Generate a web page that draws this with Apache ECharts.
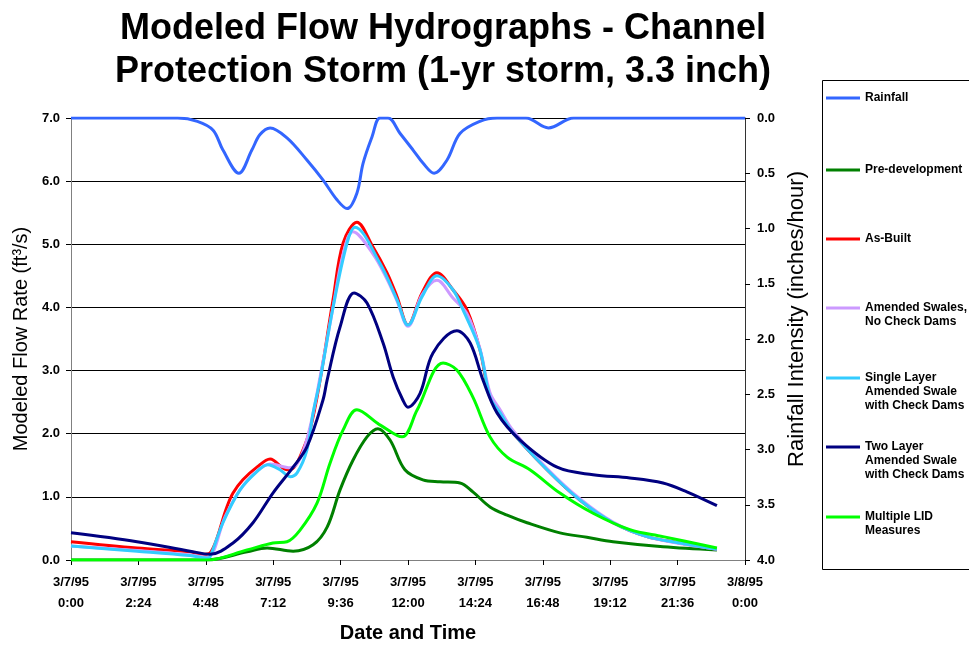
<!DOCTYPE html>
<html>
<head>
<meta charset="utf-8">
<title>Modeled Flow Hydrographs</title>
<script src="https://cdn.jsdelivr.net/npm/echarts@6/dist/echarts.min.js"></script>
<style>
  html, body { margin: 0; padding: 0; background: #fff; }
  #chart { width: 969px; height: 648px; }
</style>
</head>
<body>
<div id="chart"></div>
<script>
// x axis is hours after 3/7/95 0:00
var xTickLabels = ['3/7/95\n0:00', '3/7/95\n2:24', '3/7/95\n4:48', '3/7/95\n7:12', '3/7/95\n9:36',
    '3/7/95\n12:00', '3/7/95\n14:24', '3/7/95\n16:48', '3/7/95\n19:12', '3/7/95\n21:36', '3/8/95\n0:00'];

var legendNames = ['Rainfall', 'Pre-development', 'As-Built', 'Amended Swales,\nNo Check Dams',
    'Single Layer\nAmended Swale\nwith Check Dams', 'Two Layer\nAmended Swale\nwith Check Dams',
    'Multiple LID\nMeasures'];

// rainfall intensity (inches/hour)
var rainHours = [0, 3.8, 4.5, 5.06, 5.41, 5.98, 6.44, 6.73, 7.09, 7.69, 8.40, 8.97, 9.47, 9.83, 10.18,
    10.40, 10.72, 11.0, 11.29, 11.72, 12.18, 12.54, 12.93, 13.39, 13.85, 14.56, 15.17, 16.2, 17.0, 17.9, 24];
var rainValues = [0, 0, 0.03, 0.11, 0.29, 0.50, 0.29, 0.15, 0.09, 0.18, 0.38, 0.56, 0.74, 0.82, 0.68,
    0.41, 0.17, 0, 0, 0.14, 0.29, 0.41, 0.50, 0.38, 0.14, 0.03, 0, 0, 0.09, 0, 0];

// flows (ft3/s)
var preHours = [0, 4.84, 6.27, 6.98, 7.91, 8.62, 9.12, 9.58, 10.04, 10.54, 10.93, 11.36, 11.89, 12.53,
    13.14, 13.85, 14.31, 14.92, 15.53, 16.24, 17.41, 18.37, 19.30, 21.08, 23.0];
var preFlow = [0, 0, 0.13, 0.19, 0.14, 0.24, 0.52, 1.11, 1.58, 1.95, 2.08, 1.9, 1.43, 1.27,
    1.24, 1.22, 1.08, 0.84, 0.71, 0.59, 0.43, 0.36, 0.29, 0.21, 0.16];

var builtHours = [0, 2.35, 4.24, 4.70, 4.95, 5.55, 5.77, 6.12, 6.62, 7.09, 7.69, 7.9, 8.15, 8.51, 8.87,
    9.33, 9.69, 10.18, 10.75, 11.25, 11.61, 12.0, 12.5, 13.03, 13.6, 14.1, 14.56, 14.92, 15.28, 15.74,
    16.95, 18.12, 19.3, 20.51, 21.68, 23.0];
var builtFlow = [0.29, 0.19, 0.13, 0.09, 0.11, 0.84, 1.06, 1.27, 1.47, 1.60, 1.43, 1.45, 1.63, 2.06, 2.85,
    4.12, 5.02, 5.35, 4.96, 4.55, 4.17, 3.72, 4.23, 4.55, 4.28, 3.96, 3.33, 2.58, 2.33, 2.01,
    1.43, 0.95, 0.59, 0.37, 0.27, 0.17];

var amendHours = [0, 2.35, 4.24, 4.84, 5.5, 6.0, 6.6, 7.09, 7.8, 8.15, 8.51, 8.87, 9.33, 9.69, 10.04,
    10.75, 11.25, 11.61, 12.0, 12.5, 13.03, 13.6, 14.1, 14.56, 14.92, 15.28, 15.74, 16.95, 18.12, 19.3,
    20.51, 21.68, 23.0];
var amendFlow = [0.22, 0.15, 0.08, 0.04, 0.7, 1.1, 1.4, 1.52, 1.46, 1.6, 2.1, 2.9, 4.0, 4.85, 5.2,
    4.85, 4.45, 4.1, 3.7, 4.2, 4.43, 4.15, 3.9, 3.35, 2.65, 2.38, 2.05, 1.45, 0.97, 0.6,
    0.37, 0.26, 0.17];

var singleHours = [0, 2.35, 4.24, 4.84, 4.95, 5.41, 6.02, 6.62, 7.01, 7.44, 7.8, 8.05, 8.4, 8.62, 8.87,
    9.33, 9.83, 10.11, 11.0, 11.61, 12.0, 12.5, 13.03, 13.6, 13.96, 14.56, 14.92, 15.28, 15.74, 16.95,
    18.12, 19.3, 20.51, 21.68, 23.0];
var singleFlow = [0.22, 0.14, 0.07, 0.03, 0.05, 0.59, 1.11, 1.40, 1.51, 1.43, 1.32, 1.38, 1.74, 2.33, 2.85,
    4.0, 5.02, 5.27, 4.70, 4.12, 3.72, 4.17, 4.50, 4.28, 3.96, 3.33, 2.58, 2.33, 2.01, 1.43,
    0.95, 0.59, 0.37, 0.27, 0.17];

var twoHours = [0, 2.35, 4.24, 4.95, 5.77, 6.48, 7.19, 7.91, 8.40, 8.97, 9.12, 9.58, 10.08, 10.54, 11.11,
    11.47, 11.82, 12.0, 12.43, 12.89, 13.74, 14.21, 14.67, 15.17, 15.99, 17.31, 18.59, 19.90, 21.08,
    21.93, 23.0];
var twoFlow = [0.43, 0.29, 0.14, 0.09, 0.27, 0.59, 1.06, 1.47, 1.79, 2.53, 2.85, 3.69, 4.23, 4.07, 3.44,
    2.90, 2.53, 2.42, 2.64, 3.28, 3.63, 3.44, 2.85, 2.33, 1.90, 1.47, 1.35, 1.30, 1.22,
    1.08, 0.86];

var lidHours = [0, 4.84, 6.27, 7.19, 7.69, 8.15, 8.76, 9.22, 9.69, 10.18, 10.90, 11.0, 11.79, 12.32,
    13.25, 13.74, 14.31, 14.92, 15.53, 16.34, 17.41, 18.59, 19.90, 21.08, 23.0];
var lidFlow = [0, 0, 0.16, 0.27, 0.29, 0.47, 0.9, 1.53, 2.06, 2.38, 2.17, 2.14, 1.95, 2.37,
    3.12, 3.01, 2.58, 1.95, 1.63, 1.43, 1.06, 0.74, 0.48, 0.37, 0.19];

var lineColors = ['#3366ff', '#008000', '#ff0000', '#cc99ff', '#33ccff', '#000080', '#00ff00'];
// y of each legend entry's first line
var legendY = [98, 170, 239, 308, 378, 447, 517];

function pairs(xs, ys) {
    var out = [];
    for (var i = 0; i < xs.length; i++) out.push([xs[i], ys[i]]);
    return out;
}

var seriesData = [
    pairs(rainHours, rainValues),
    pairs(preHours, preFlow),
    pairs(builtHours, builtFlow),
    pairs(amendHours, amendFlow),
    pairs(singleHours, singleFlow),
    pairs(twoHours, twoFlow),
    pairs(lidHours, lidFlow)
];

var font = 'Liberation Sans, Arial, Helvetica, sans-serif';

var series = [];
var legends = [];
for (var i = 0; i < legendNames.length; i++) {
    series.push({
        name: legendNames[i],
        type: 'line',
        yAxisIndex: i === 0 ? 1 : 0,
        data: seriesData[i],
        smooth: 0.35,
        symbol: 'none',
        lineStyle: { color: lineColors[i], width: 3 },
        itemStyle: { color: lineColors[i] },
        z: 3 + i
    });
    // blank lines in front keep the icon level with the first text line
    var nLines = legendNames[i].split('\n').length;
    var pad = new Array(nLines).join('\n');
    legends.push({
        data: [legendNames[i]],
        left: 826,
        top: legendY[i] - (2 * nLines - 1) * 7,
        padding: 0,
        icon: 'rect',
        itemWidth: 34,
        itemHeight: 3,
        selectedMode: false,
        formatter: (function (p) { return function (name) { return p + name; }; })(pad),
        textStyle: { fontFamily: font, fontWeight: 'bold', fontSize: 12, lineHeight: 14, color: '#000' }
    });
}

var myChart = echarts.init(document.getElementById('chart'));
var option = {
    animation: false,
    backgroundColor: '#fff',
    title: {
        text: 'Modeled Flow Hydrographs - Channel\nProtection Storm (1-yr storm, 3.3 inch)',
        left: 443,
        top: 8,
        textAlign: 'center',
        padding: 0,
        textStyle: { fontFamily: font, fontWeight: 'bold', fontSize: 36, lineHeight: 43, color: '#000' }
    },
    legend: legends,
    graphic: [{
        type: 'rect',
        shape: { x: 822.5, y: 80.5, width: 160, height: 489 },
        style: { fill: 'none', stroke: '#000', lineWidth: 1 },
        z: -1
    }],
    grid: { left: 71, right: 224, top: 118, bottom: 88 },
    xAxis: {
        type: 'value',
        min: 0,
        max: 24,
        interval: 2.4,
        name: 'Date and Time',
        nameLocation: 'middle',
        nameGap: 63,
        nameTextStyle: { fontFamily: font, fontWeight: 'bold', fontSize: 20, color: '#000' },
        axisLine: { lineStyle: { color: '#808080', width: 1 } },
        axisTick: { length: 5, lineStyle: { color: '#000' } },
        axisLabel: {
            margin: 12,
            fontFamily: font, fontWeight: 'bold', fontSize: 13, lineHeight: 21, color: '#000',
            formatter: function (v) { return xTickLabels[Math.round(v / 2.4)]; }
        },
        splitLine: { show: false }
    },
    yAxis: [{
        type: 'value',
        min: 0,
        max: 7,
        interval: 1,
        name: 'Modeled Flow Rate (ft\u00b3/s)',
        nameLocation: 'middle',
        nameGap: 39,
        nameTextStyle: { fontFamily: font, fontSize: 20, color: '#000' },
        axisLine: { show: true, lineStyle: { color: '#808080', width: 1 } },
        axisTick: { show: true, length: 5, lineStyle: { color: '#000' } },
        axisLabel: {
            margin: 11,
            fontFamily: font, fontWeight: 'bold', fontSize: 13, color: '#000',
            formatter: function (v) { return v.toFixed(1); }
        },
        splitLine: { show: true, lineStyle: { color: '#000', width: 1 } }
    }, {
        type: 'value',
        position: 'right',
        inverse: true,
        min: 0,
        max: 4,
        interval: 0.5,
        name: 'Rainfall Intensity (inches/hour)',
        nameLocation: 'middle',
        nameGap: 40,
        // left padding moves the rotated name up along the axis
        nameTextStyle: { fontFamily: font, fontSize: 22, color: '#000', padding: [0, 0, 0, 40] },
        axisLine: { show: true, lineStyle: { color: '#333', width: 1 } },
        axisTick: { show: true, length: 5, lineStyle: { color: '#000' } },
        axisLabel: {
            margin: 12,
            fontFamily: font, fontWeight: 'bold', fontSize: 13, color: '#000',
            formatter: function (v) { return v.toFixed(1); }
        },
        splitLine: { show: false }
    }],
    series: series
};
myChart.setOption(option);
</script>
</body>
</html>
